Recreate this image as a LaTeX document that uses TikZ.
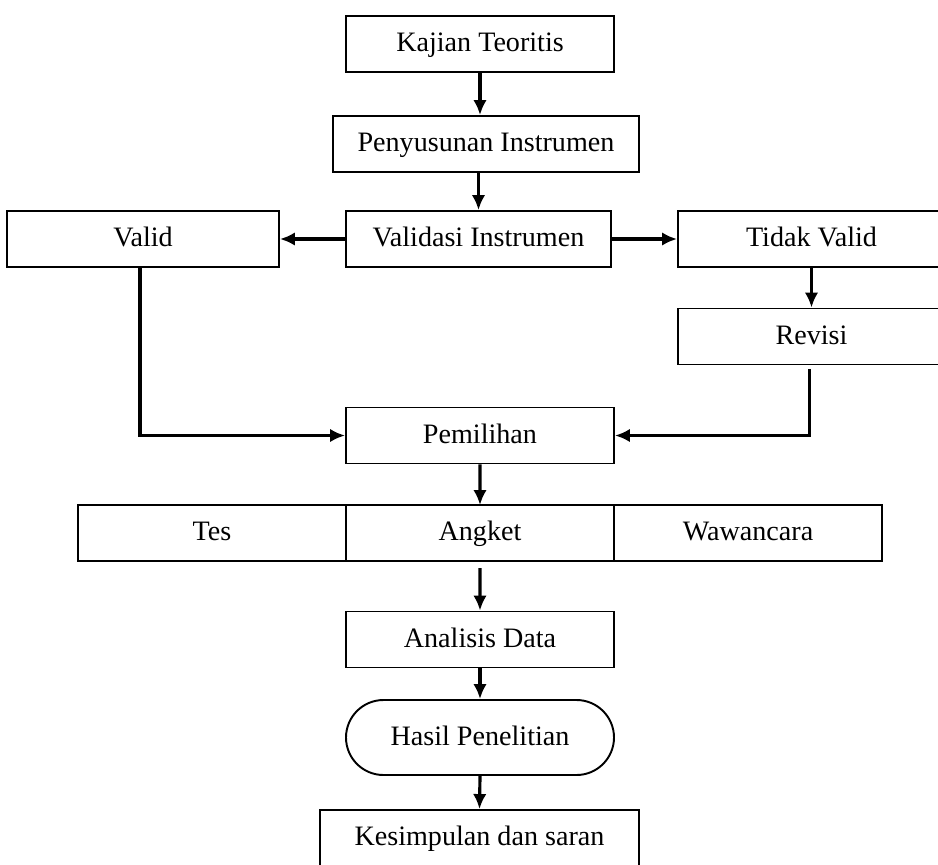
\documentclass[tikz,border=0pt]{standalone}
\usepackage{fontspec}
\setmainfont{Liberation Serif}
\usetikzlibrary{arrows.meta,positioning,calc}

\begin{document}
\begin{tikzpicture}[
    font=\fontsize{16}{19}\selectfont,
    >={Latex[length=3mm,width=2.7mm]},
    box/.style  = {draw=black, fill=white, line width=1.1pt,
                   minimum height=11.2mm, minimum width=53.6mm, align=center,
                   text height=1.1em, text depth=0.2em, inner sep=2pt},
    cell/.style = {box, outer sep=0pt},
    pill/.style = {box, rounded corners=7.5mm, minimum height=15mm},
    flow/.style = {draw=black, line width=1.8pt, ->},
  ]
  \useasboundingbox (0,0) rectangle (18.76,-17.28);

  % ===================================================================
  % Instrument preparation
  % ===================================================================
  \node[box] (kajian) at (9.60,-0.88) {Kajian Teoritis};
  \node[box, minimum width=61.2mm] (susun) at (9.72,-2.88)
    {Penyusunan Instrumen};
  \node[box, minimum width=53.0mm] (validasi) at (9.57,-4.78)
    {Validasi Instrumen};

  \node[box, minimum width=54.4mm] (valid) at (2.86,-4.78) {Valid};
  \node[box, minimum width=53.4mm] (tidak) at (16.23,-4.78) {Tidak Valid};
  \node[box, minimum width=53.4mm] (revisi) at (16.23,-6.73) {Revisi};

  \node[box] (pilih) at (9.60,-8.71) {Pemilihan};

  \draw[flow] (kajian.south) -- (kajian.south |- susun.north);
  \draw[flow] (validasi.north |- susun.south) -- (validasi.north);
  \draw[flow] (validasi.west) -- (validasi.west -| valid.east);
  \draw[flow] (validasi.east) -- (validasi.east -| tidak.west);
  \draw[flow] (tidak.south) -- (revisi.north);
  \draw[flow] ($(valid.south)+(-0.06,0)$) |- (pilih.west);
  \draw[flow] ($(revisi.south)+(-0.04,-0.08)$) |- (pilih.east);

  % ===================================================================
  % Instruments row
  % ===================================================================
  \node[cell] (tes) at (4.24,-10.66) {Tes};
  \node[cell, anchor=west] (angket) at (tes.east) {Angket};
  \node[cell, anchor=west] (wawan) at (angket.east) {Wawancara};

  \draw[flow] (pilih.south) -- (angket.north);

  % ===================================================================
  % Analysis and results
  % ===================================================================
  \node[box] (analisis) at (9.60,-12.79) {Analisis Data};
  \node[pill] (hasil) at (9.60,-14.75) {Hasil Penelitian};
  \node[box, minimum width=63.8mm] (simpul) at (9.59,-16.76)
    {Kesimpulan dan saran};

  \draw[flow, shorten <=0.14cm] (angket.south) -- (analisis.north);
  \draw[flow] (analisis.south) -- (hasil.north);
  \draw[flow] (hasil.south) -- (simpul.north);

\end{tikzpicture}
\end{document}
